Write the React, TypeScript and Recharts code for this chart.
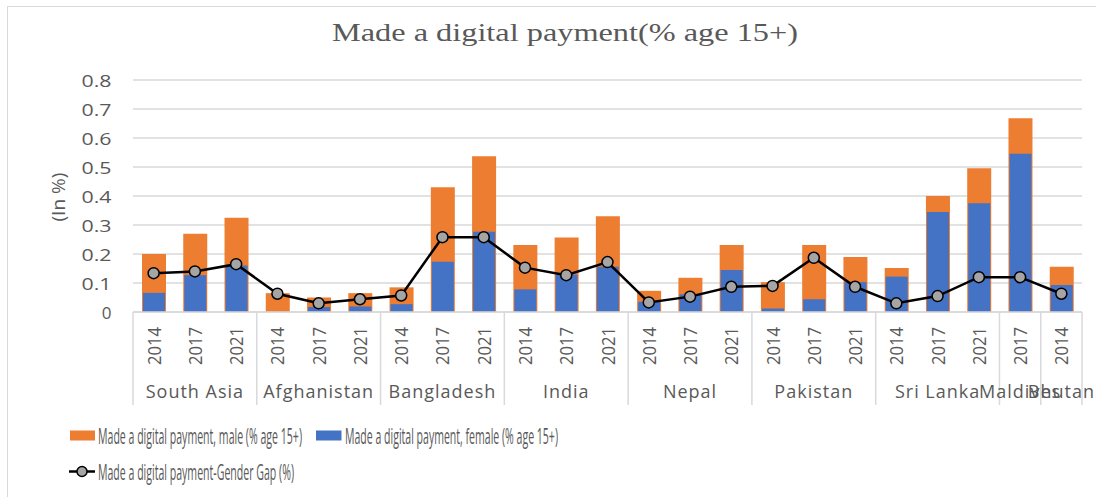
import React from 'react';
import { ComposedChart, Bar, Line, XAxis, YAxis, CartesianGrid, Legend, Rectangle } from 'recharts';

// ---------- data ----------
const groups = ['South Asia', 'Afghanistan', 'Bangladesh', 'India', 'Nepal', 'Pakistan', 'Sri Lanka', 'Maldives', 'Bhutan'];
const groupYears: number[][] = [
  [2014, 2017, 2021],
  [2014, 2017, 2021],
  [2014, 2017, 2021],
  [2014, 2017, 2021],
  [2014, 2017, 2021],
  [2014, 2017, 2021],
  [2014, 2017, 2021],
  [2017],
  [2014],
];
const maleValues = [
  0.2, 0.27, 0.325,
  0.065, 0.05, 0.065,
  0.085, 0.43, 0.537,
  0.231, 0.257, 0.33,
  0.073, 0.118, 0.231,
  0.103, 0.231, 0.19,
  0.152, 0.4, 0.496,
  0.668,
  0.156,
];
const femaleValues = [
  0.066, 0.127, 0.16,
  0.0, 0.017, 0.019,
  0.027, 0.173, 0.277,
  0.078, 0.129, 0.156,
  0.035, 0.061, 0.145,
  0.012, 0.044, 0.103,
  0.122, 0.345, 0.375,
  0.546,
  0.093,
];
const gapValues = [
  0.134, 0.14, 0.165,
  0.063, 0.03, 0.044,
  0.057, 0.258, 0.258,
  0.153, 0.127, 0.172,
  0.033, 0.053, 0.087,
  0.09, 0.187, 0.087,
  0.03, 0.055, 0.12,
  0.12,
  0.063,
];
const yTicks = [0, 0.1, 0.2, 0.3, 0.4, 0.5, 0.6, 0.7, 0.8];
const titleText = 'Made a digital payment(% age 15+)';
const yLabelText = '(In %)';
const maleName = 'Made a digital payment, male (% age 15+)';
const femaleName = 'Made a digital payment, female (% age 15+)';
const gapName = 'Made a digital payment-Gender Gap (%)';

// ---------- styles ----------
const ORANGE = '#ED7D31';
const BLUE = '#4472C4';
const MARKER = '#A5A5A5';
const GRID = '#D9D9D9';
const TEXT = '#595959';
const SANS = "'Open Sans', 'Noto Sans', sans-serif";
const NARROW = "'Liberation Sans Narrow', 'Open Sans', sans-serif";

type Row = {
  key: string; group: string; year: number; pos: number; size: number;
  male: number; female: number; gap: number;
};

const rows: Row[] = [];
{
  let k = 0;
  groups.forEach((g, gi) => {
    groupYears[gi].forEach((yr, pi) => {
      rows.push({
        key: `${g}-${yr}`, group: g, year: yr, pos: pi, size: groupYears[gi].length,
        male: maleValues[k], female: femaleValues[k], gap: gapValues[k],
      });
      k++;
    });
  });
}

const W = 1096;
const H = 497;
const MARGIN = { top: 80, right: 14, bottom: 85, left: 73 };
const Y_AXIS_W = 60;
const X_AXIS_H = 100;
const PLOT_LEFT = MARGIN.left + Y_AXIS_W;
const PLOT_W = W - PLOT_LEFT - MARGIN.right;
const STEP = PLOT_W / rows.length;

const XTick = (props: any) => {
  const { x, y, payload } = props;
  const idx = rows.findIndex((r) => r.key === payload.value);
  if (idx < 0) return null;
  const r = rows[idx];
  const els: React.ReactNode[] = [];
  els.push(
    <text key="yr" transform={`translate(${x},${y + 34}) rotate(-90)`} textAnchor="middle"
      dominantBaseline="central" fontSize={19} fill={TEXT} fontFamily={SANS}
      textLength={38} lengthAdjust="spacingAndGlyphs">{r.year}</text>
  );
  if (r.pos === 0) {
    const left = x - STEP / 2;
    els.push(<line key="sep" x1={left} x2={left} y1={y} y2={y + 93} stroke={GRID} strokeWidth={1.5} />);
    const cx = left + (r.size * STEP) / 2;
    els.push(
      <text key="grp" x={cx} y={y + 86} textAnchor="middle" fontSize={18} letterSpacing={1}
        fill={TEXT} fontFamily={SANS}>{r.group}</text>
    );
  }
  if (idx === rows.length - 1) {
    const right = x + STEP / 2;
    els.push(<line key="sepR" x1={right} x2={right} y1={y} y2={y + 93} stroke={GRID} strokeWidth={1.5} />);
  }
  return <g>{els}</g>;
};

const YTick = (props: any) => {
  const { x, y, payload } = props;
  const v: number = payload.value;
  const s = v === 0 ? '0' : v.toFixed(1);
  return (
    <text x={x} y={y} textAnchor="end" dominantBaseline="central" fontSize={17} fill={TEXT}
      fontFamily={SANS} textLength={s.length > 1 ? 30 : undefined} lengthAdjust="spacingAndGlyphs">{s}</text>
  );
};

const YLabel = (props: any) => {
  const vb = props.viewBox || { x: MARGIN.left, y: MARGIN.top, height: 232 };
  const cx = vb.x - 15;
  const cy = vb.y + vb.height * 0.5 + 1;
  return (
    <text transform={`translate(${cx},${cy}) rotate(-90)`} textAnchor="middle" dominantBaseline="central"
      fontSize={18} fill={TEXT} fontFamily={SANS} textLength={49} lengthAdjust="spacingAndGlyphs">{yLabelText}</text>
  );
};

const FemaleShape = (props: any) => {
  const { x, y, width, height } = props;
  if (!height || height <= 0) return null;
  return <Rectangle x={x + 1} y={y} width={Math.max(0, width - 2)} height={height} fill={BLUE} />;
};

const LegendContent = () => (
  <svg width={W} height={75} style={{ display: 'block' }}>
    <rect x={70} y={15.5} width={25} height={10} fill={ORANGE} />
    <text x={98} y={21} dominantBaseline="central" fontSize={21} fill={TEXT} fontFamily={NARROW}
      textLength={204} lengthAdjust="spacingAndGlyphs">{maleName}</text>
    <rect x={316} y={15.5} width={25.5} height={10} fill={BLUE} />
    <text x={345} y={21} dominantBaseline="central" fontSize={21} fill={TEXT} fontFamily={NARROW}
      textLength={213} lengthAdjust="spacingAndGlyphs">{femaleName}</text>
    <line x1={69} x2={95} y1={56.5} y2={56.5} stroke="#000" strokeWidth={2.5} />
    <circle cx={82} cy={56.5} r={5} fill={MARKER} stroke="#000" strokeWidth={1.5} />
    <text x={98} y={57} dominantBaseline="central" fontSize={21} fill={TEXT} fontFamily={NARROW}
      textLength={196} lengthAdjust="spacingAndGlyphs">{gapName}</text>
  </svg>
);

export default function App() {
  return (
    <div style={{ position: 'absolute', left: 0, top: 0, width: W, height: H, overflow: 'hidden', background: '#fff' }}>
      <div style={{ position: 'absolute', left: 7, top: 6, width: W + 20, height: H + 20, border: `1px solid ${GRID}`, boxSizing: 'border-box' }} />
      <svg width={W} height={60} style={{ position: 'absolute', left: 0, top: 0 }}>
        <text x={565} y={41} textAnchor="middle" fontSize={25} fill={TEXT}
          fontFamily="'Liberation Serif', 'Times New Roman', serif" textLength={466}
          lengthAdjust="spacingAndGlyphs">{titleText}</text>
      </svg>
      <div style={{ position: 'absolute', left: 0, top: 0 }}>
        <ComposedChart width={W} height={H} data={rows} margin={MARGIN} barGap={-24}>
          <CartesianGrid vertical={false} stroke={GRID} strokeWidth={1.5} />
          <XAxis dataKey="key" interval={0} height={X_AXIS_H} tick={<XTick />} tickLine={false}
            tickSize={0} tickMargin={0} axisLine={{ stroke: GRID, strokeWidth: 1.5 }} />
          <YAxis domain={[0, 0.8]} ticks={yTicks} width={Y_AXIS_W} axisLine={false} tickLine={false}
            tickSize={6} tickMargin={15.5} tick={<YTick />} interval={0} label={<YLabel />} />
          <Bar dataKey="male" name={maleName} fill={ORANGE} barSize={24} isAnimationActive={false} />
          <Bar dataKey="female" name={femaleName} fill={BLUE} barSize={24} shape={<FemaleShape />} isAnimationActive={false} />
          <Line dataKey="gap" name={gapName} type="linear" stroke="#000" strokeWidth={2.5}
            dot={{ r: 5.5, fill: MARKER, stroke: '#000', strokeWidth: 1.5 }} isAnimationActive={false} />
          <Legend layout="horizontal" verticalAlign="middle" align="center" content={<LegendContent />}
            wrapperStyle={{ left: 0, top: 415, width: W, height: 75 }} />
        </ComposedChart>
      </div>
    </div>
  );
}
